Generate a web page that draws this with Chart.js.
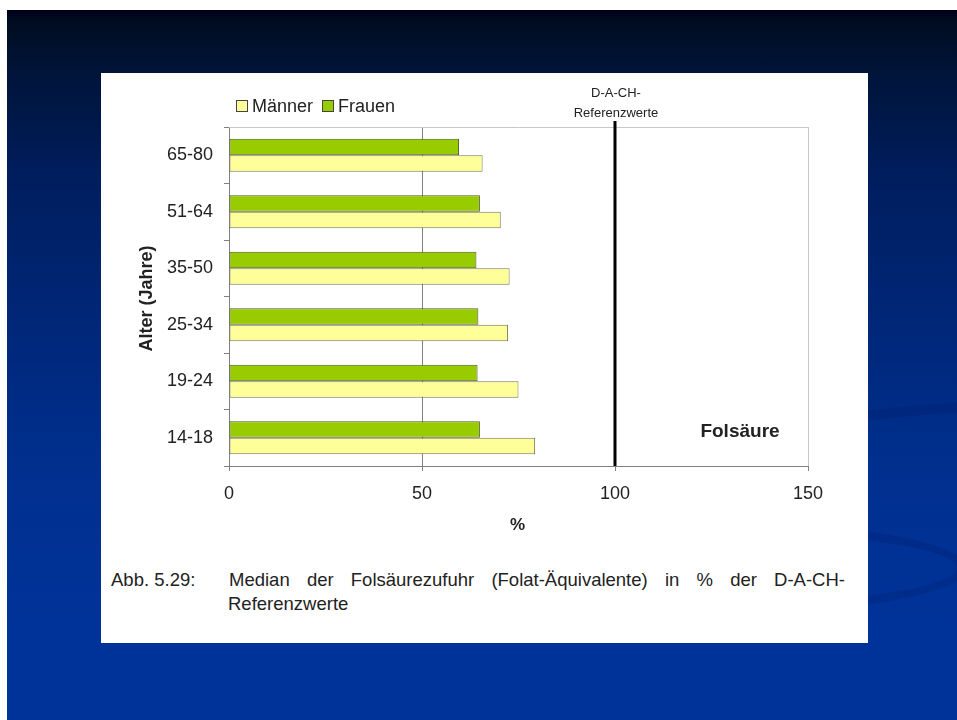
<!doctype html>
<html>
<head>
<meta charset="utf-8">
<script src="https://cdn.jsdelivr.net/npm/chart.js@4/dist/chart.umd.min.js"></script>
<style>
html, body { margin: 0; padding: 0; }
body {
	width: 957px; height: 720px; position: relative; overflow: hidden;
	background: #fff;
	font-family: "Liberation Sans", Arial, sans-serif;
}
#slide {
	position: absolute; left: 7px; top: 10px; width: 950px; height: 710px; overflow: hidden;
	background: linear-gradient(to bottom, #00001a 0px, #000c20 12px, #001438 60px, #001d5c 160px, #002676 300px, #002f8e 450px, #003399 620px, #003399 710px);
}
.swoosh {
	position: absolute; border-radius: 50%;
	border: 10px solid rgba(0, 25, 100, 0.22);
}
#panel {
	position: absolute; left: 101px; top: 73px; width: 767px; height: 570px; background: #fff;
}
#chart-area { position: absolute; left: 0; top: 0; }
.cap { position: absolute; font-size: 18.5px; color: #222; line-height: 24px; white-space: nowrap; }
#cap1 { left: 128px; top: 495px; width: 616px; text-align: justify; text-align-last: justify; white-space: normal; }
</style>
</head>
<body>
	<div id="slide">
		<div class="swoosh" style="left:480px; top:388px; width:1200px; height:320px; border-bottom-color: transparent; border-left-color: transparent;"></div>
		<div class="swoosh" style="left:450px; top:512px; width:490px; height:72px;"></div>
	</div>
	<div id="panel">
		<canvas id="chart-area" width="767" height="472"></canvas>
		<div class="cap" style="left:10px; top:495px;">Abb. 5.29:</div>
		<div class="cap" id="cap1">Median der Folsäurezufuhr (Folat-Äquivalente) in % der D-A-CH-</div>
		<div class="cap" style="left:127px; top:519px;">Referenzwerte</div>
	</div>
	<script>
		var ageGroups = ['65-80', '51-64', '35-50', '25-34', '19-24', '14-18'];
		var frauen = [59.6, 65.0, 64.1, 64.6, 64.4, 65.0];
		var maenner = [65.7, 70.4, 72.7, 72.3, 75.0, 79.3];
		var xTicks = [0, 50, 100, 150];
		var referenceValue = 100;
		var referenceLabel = ['D-A-CH-', 'Referenzwerte'];
		var yTitle = 'Alter (Jahre)';
		var xTitle = '%';
		var panelNote = 'Folsäure';

		var FONT = '"Liberation Sans", Arial, sans-serif';

		var extras = {
			id: 'extras',
			afterDatasetsDraw: function(chart) {
				var ctx = chart.ctx;
				var area = chart.chartArea;
				var x = chart.scales.x;
				ctx.save();
				// top border of the plot
				ctx.strokeStyle = '#c8c8c8';
				ctx.lineWidth = 1;
				ctx.beginPath();
				ctx.moveTo(area.left, area.top + 0.5);
				ctx.lineTo(area.right, area.top + 0.5);
				ctx.stroke();

				// reference line
				var rx = x.getPixelForValue(referenceValue);
				ctx.strokeStyle = '#000';
				ctx.lineWidth = 3;
				ctx.beginPath();
				ctx.moveTo(rx, area.top - 6);
				ctx.lineTo(rx, area.bottom);
				ctx.stroke();

				ctx.fillStyle = '#222';
				ctx.textAlign = 'center';
				ctx.textBaseline = 'middle';
				ctx.font = '13px ' + FONT;
				ctx.fillText(referenceLabel[0], rx + 1, 20);
				ctx.fillText(referenceLabel[1], rx + 1, 40);

				ctx.font = 'bold 19px ' + FONT;
				ctx.fillText(panelNote, 639, 359);

				// axis titles
				ctx.font = 'bold 17px ' + FONT;
				ctx.fillText(xTitle, (area.left + area.right) / 2 - 1, 452);
				ctx.save();
				ctx.translate(46, (area.top + area.bottom) / 2 + 2);
				ctx.rotate(-Math.PI / 2);
				ctx.font = 'bold 18px ' + FONT;
				ctx.fillText(yTitle, 0, 0);
				ctx.restore();

				// legend, Männer first
				var lx = 135;
				var ly = 33;
				ctx.font = '18px ' + FONT;
				ctx.textAlign = 'left';
				chart.data.datasets.slice().reverse().forEach(function(ds) {
					ctx.fillStyle = ds.backgroundColor;
					ctx.fillRect(lx + 0.5, ly - 5.5, 11, 11);
					ctx.strokeStyle = '#444';
					ctx.lineWidth = 1;
					ctx.strokeRect(lx + 0.5, ly - 5.5, 11, 11);
					ctx.fillStyle = '#222';
					ctx.fillText(ds.label, lx + 16, ly + 1);
					lx += 16 + ctx.measureText(ds.label).width + 9;
				});
				ctx.restore();
			}
		};

		var config = {
			type: 'bar',
			data: {
				labels: ageGroups,
				datasets: [{
					label: 'Frauen',
					data: frauen,
					backgroundColor: '#99cc00',
					borderColor: '#4f5a2a',
					borderWidth: 1,
					borderSkipped: false
				}, {
					label: 'Männer',
					data: maenner,
					backgroundColor: '#ffff99',
					borderColor: '#77775a',
					borderWidth: 1,
					borderSkipped: false
				}]
			},
			options: {
				indexAxis: 'y',
				responsive: false,
				animation: false,
				categoryPercentage: 0.58,
				barPercentage: 1,
				layout: { padding: { top: 54, right: 60, left: 0, bottom: 0 } },
				plugins: {
					legend: { display: false },
					tooltip: { enabled: false }
				},
				scales: {
					x: {
						min: 0,
						max: 150,
						afterBuildTicks: function(scale) {
							scale.ticks = xTicks.map(function(v) { return { value: v }; });
						},
						afterFit: function(scale) { scale.height = 79; },
						grid: {
							color: function(c) { return c.tick && c.tick.value === 150 ? '#c8c8c8' : '#808080'; },
							tickLength: 5,
							tickColor: '#808080'
						},
						border: { color: '#808080', width: 1 },
						ticks: { font: { size: 18, family: FONT }, color: '#222', padding: 12, maxRotation: 0 }
					},
					y: {
						afterFit: function(scale) { scale.width = 128; },
						grid: {
							offset: true,
							drawOnChartArea: false,
							tickLength: 5,
							color: '#808080'
						},
						border: { color: '#808080', width: 1 },
						ticks: { font: { size: 18, family: FONT }, color: '#222', padding: 11 }
					}
				}
			},
			plugins: [extras]
		};

		window.onload = function() {
			var ctx = document.getElementById('chart-area').getContext('2d');
			window.myBar = new Chart(ctx, config);
		};
	</script>
</body>
</html>
